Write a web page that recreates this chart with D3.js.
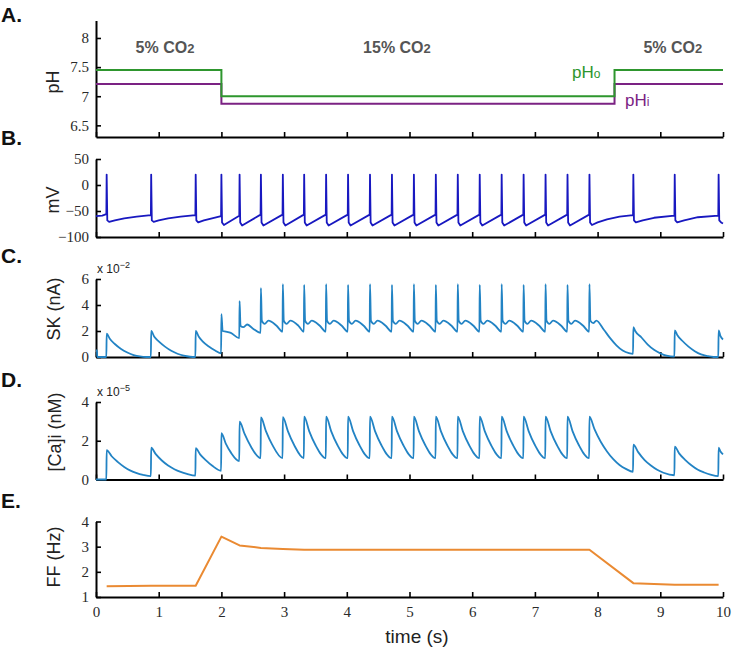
<!DOCTYPE html>
<html><head><meta charset="utf-8">
<script src="https://cdn.jsdelivr.net/npm/d3@7"></script>
<style>
html,body{margin:0;padding:0;background:#fff;}
svg{display:block;}
</style></head>
<body>
<svg id="chart" width="736" height="649"></svg>
<script>
// ---------------- DATA ----------------
const timeTicks = [0,1,2,3,4,5,6,7,8,9,10];

// A. pH (step changes)
const pHoTrace = [[0,7.45],[2,7.0],[8.27,7.45],[10,7.45]];
const pHiTrace = [[0,7.21],[2,6.87],[8.27,7.21],[10,7.21]];
const pHTicks = [6.5,7,7.5,8];
const co2Labels = [{t:1.1,text:"5% CO",sub:"2"},{t:4.8,text:"15% CO",sub:"2"},{t:9.2,text:"5% CO",sub:"2"}];

// B. membrane potential (mV)
const mvTicks = [-100,-50,0,50];
const mvTrace = [
[0,-60],[0.1,-59],[0.165,-56],[0.17,20],[0.18,-68],[0.21,-71],[0.3,-68],[0.45,-64],[0.65,-61],[0.875,-58],
[0.88,20],[0.89,-68],[0.92,-71],[1.0,-68],[1.15,-64],[1.35,-61],[1.585,-58],
[1.59,20],[1.6,-68],[1.63,-72],[1.72,-68],[1.85,-64],[1.995,-60],
[2.0,20],[2.01,-72],[2.04,-77],[2.285,-59],
[2.29,20],[2.3,-72],[2.33,-78],[2.625,-57],
[2.63,20],[2.64,-72],[2.67,-78],[2.975,-57],
[2.98,20],[2.99,-72],[3.02,-78],[3.315,-57],
[3.32,20],[3.33,-72],[3.36,-78],[3.665,-57],
[3.67,20],[3.68,-72],[3.71,-78],[4.015,-57],
[4.02,20],[4.03,-72],[4.06,-78],[4.365,-57],
[4.37,20],[4.38,-72],[4.41,-78],[4.715,-57],
[4.72,20],[4.73,-72],[4.76,-78],[5.065,-57],
[5.07,20],[5.08,-72],[5.11,-78],[5.415,-57],
[5.42,20],[5.43,-72],[5.46,-78],[5.765,-57],
[5.77,20],[5.78,-72],[5.81,-78],[6.115,-57],
[6.12,20],[6.13,-72],[6.16,-78],[6.465,-57],
[6.47,20],[6.48,-72],[6.51,-78],[6.815,-57],
[6.82,20],[6.83,-72],[6.86,-78],[7.165,-57],
[7.17,20],[7.18,-72],[7.21,-78],[7.515,-57],
[7.52,20],[7.53,-72],[7.56,-78],[7.865,-57],
[7.87,20],[7.88,-72],[7.91,-77],[8.0,-72],[8.15,-66],[8.35,-61],[8.565,-58],
[8.57,20],[8.58,-68],[8.61,-72],[8.72,-68],[8.9,-63],[9.225,-59],
[9.23,20],[9.24,-68],[9.27,-72],[9.38,-68],[9.6,-62],[9.925,-59],
[9.93,20],[9.94,-68],[9.97,-72],[10,-74]
];

// C. SK current (x 10^-2 nA)
const skTicks = [0,2,4,6];
const skTrace = [
[0,0.5],[0.015,0.5],[0.02,0],[0.165,0],[0.17,1.8],[0.22,1.4],[0.3,1.0],[0.4,0.62],[0.5,0.35],[0.6,0.15],[0.7,0.04],[0.8,0],[0.875,0],
[0.88,2.0],[0.93,1.55],[1.0,1.2],[1.1,0.8],[1.2,0.48],[1.3,0.25],[1.4,0.1],[1.5,0.02],[1.585,0],
[1.59,2.0],[1.64,1.55],[1.7,1.2],[1.8,0.8],[1.9,0.5],[1.995,0.28],
[2.0,3.3],[2.02,2.0],[2.07,1.95],[2.15,1.85],[2.285,1.45],
[2.29,4.3],[2.305,2.4],[2.35,2.3],[2.41,2.5],[2.5,2.2],[2.625,1.85],
[2.63,5.3],[2.645,2.8],[2.69,2.55],[2.75,2.8],[2.88,2.4],[2.975,1.95],
[2.98,5.6],[2.995,2.8],[3.04,2.55],[3.1,2.8],[3.23,2.4],[3.315,1.95],
[3.32,5.55],[3.335,2.8],[3.38,2.55],[3.44,2.8],[3.57,2.4],[3.665,1.95],
[3.67,5.6],[3.685,2.8],[3.73,2.55],[3.79,2.8],[3.92,2.4],[4.015,1.95],
[4.02,5.55],[4.035,2.8],[4.08,2.55],[4.14,2.8],[4.27,2.4],[4.365,1.95],
[4.37,5.6],[4.385,2.8],[4.43,2.55],[4.49,2.8],[4.62,2.4],[4.715,1.95],
[4.72,5.55],[4.735,2.8],[4.78,2.55],[4.84,2.8],[4.97,2.4],[5.065,1.95],
[5.07,5.6],[5.085,2.8],[5.13,2.55],[5.19,2.8],[5.32,2.4],[5.415,1.95],
[5.42,5.55],[5.435,2.8],[5.48,2.55],[5.54,2.8],[5.67,2.4],[5.765,1.95],
[5.77,5.6],[5.785,2.8],[5.83,2.55],[5.89,2.8],[6.02,2.4],[6.115,1.95],
[6.12,5.55],[6.135,2.8],[6.18,2.55],[6.24,2.8],[6.37,2.4],[6.465,1.95],
[6.47,5.6],[6.485,2.8],[6.53,2.55],[6.59,2.8],[6.72,2.4],[6.815,1.95],
[6.82,5.55],[6.835,2.8],[6.88,2.55],[6.94,2.8],[7.07,2.4],[7.165,1.95],
[7.17,5.6],[7.185,2.8],[7.23,2.55],[7.29,2.8],[7.42,2.4],[7.515,1.95],
[7.52,5.55],[7.535,2.8],[7.58,2.55],[7.64,2.8],[7.77,2.4],[7.865,1.95],
[7.87,5.6],[7.885,2.8],[7.93,2.6],[7.98,2.8],[8.1,2.1],[8.2,1.45],[8.3,0.9],[8.4,0.5],[8.5,0.3],[8.565,0.25],
[8.57,2.3],[8.6,2.0],[8.7,1.5],[8.8,0.95],[8.9,0.55],[9.0,0.28],[9.1,0.1],[9.225,0.03],
[9.23,2.05],[9.27,1.7],[9.35,1.25],[9.45,0.8],[9.55,0.45],[9.65,0.2],[9.75,0.07],[9.85,0],[9.925,0],
[9.93,2.05],[9.96,1.6],[10,1.35]
];

// D. intracellular calcium (x 10^-5 nM)
const caTicks = [0,2,4];
const caTrace = [
[0,0],[0.165,0],[0.17,1.52],[0.25,1.2],[0.35,0.9],[0.45,0.65],[0.55,0.46],[0.65,0.33],[0.75,0.24],[0.875,0.17],
[0.88,1.64],[0.95,1.32],[1.05,0.98],[1.15,0.72],[1.25,0.53],[1.35,0.39],[1.45,0.29],[1.585,0.2],
[1.59,1.62],[1.66,1.3],[1.75,1.0],[1.85,0.72],[1.995,0.45],
[2.0,2.39],[2.07,1.85],[2.15,1.4],[2.285,0.95],
[2.29,2.99],[2.37,2.35],[2.47,1.7],[2.625,1.1],
[2.63,3.2],[2.71,2.5],[2.81,1.8],[2.975,1.1],
[2.98,3.22],[3.06,2.5],[3.16,1.78],[3.315,1.1],
[3.32,3.25],[3.4,2.5],[3.5,1.78],[3.665,1.1],
[3.67,3.25],[3.75,2.5],[3.85,1.78],[4.015,1.1],
[4.02,3.25],[4.1,2.5],[4.2,1.78],[4.365,1.1],
[4.37,3.25],[4.45,2.5],[4.55,1.78],[4.715,1.1],
[4.72,3.25],[4.8,2.5],[4.9,1.78],[5.065,1.1],
[5.07,3.25],[5.15,2.5],[5.25,1.78],[5.415,1.1],
[5.42,3.25],[5.5,2.5],[5.6,1.78],[5.765,1.1],
[5.77,3.25],[5.85,2.5],[5.95,1.78],[6.115,1.1],
[6.12,3.25],[6.2,2.5],[6.3,1.78],[6.465,1.1],
[6.47,3.25],[6.55,2.5],[6.65,1.78],[6.815,1.1],
[6.82,3.25],[6.9,2.5],[7.0,1.78],[7.165,1.1],
[7.17,3.25],[7.25,2.5],[7.35,1.78],[7.515,1.1],
[7.52,3.25],[7.6,2.5],[7.7,1.78],[7.865,1.1],
[7.87,3.25],[7.95,2.6],[8.05,1.95],[8.15,1.45],[8.25,1.05],[8.35,0.75],[8.45,0.55],[8.565,0.4],
[8.57,1.8],[8.65,1.4],[8.75,1.0],[8.85,0.72],[8.95,0.5],[9.05,0.35],[9.225,0.22],
[9.23,1.7],[9.3,1.35],[9.4,1.0],[9.5,0.72],[9.6,0.5],[9.7,0.36],[9.8,0.25],[9.925,0.17],
[9.93,1.64],[9.96,1.45],[10,1.3]
];

// E. firing frequency (Hz)
const ffTicks = [1,2,3,4];
const ffTimes  = [0.17,0.88,1.59,2.0,2.29,2.63,2.98,3.32,7.87,8.57,9.23,9.93];
const ffValues = [1.43,1.45,1.45,3.4,3.05,2.95,2.91,2.88,2.88,1.55,1.49,1.49];

// ---------------- DRAW ----------------
const svg = d3.select("#chart");
const x = d3.scaleLinear().domain([0,10]).range([96,723]);

const colors = {pHo:"#2e962e", pHi:"#7b2283", mv:"#1818c0", sk:"#2283c4", ca:"#2283c4", ff:"#ea8a32"};
const serif = '"Liberation Serif","DejaVu Serif",serif';
const sans = '"Liberation Sans",Arial,sans-serif';

function panel(cfg){
  const y = d3.scaleLinear().domain(cfg.domain).range([cfg.bottom, cfg.top]);
  const g = svg.append("g");
  const xa = d3.axisBottom(x).tickValues(timeTicks).tickSizeInner(-5).tickSizeOuter(0).tickPadding(9)
    .tickFormat(cfg.xLabels ? d3.format("d") : "");
  const gx = g.append("g").attr("transform",`translate(0,${cfg.bottom})`).call(xa);
  const ya = d3.axisLeft(y).tickValues(cfg.ticks).tickSizeInner(-5).tickSizeOuter(0).tickPadding(7)
    .tickFormat(cfg.fmt || d3.format(""));
  const gy = g.append("g").attr("transform",`translate(${x(0)},0)`).call(ya);
  [gx,gy].forEach(a=>{
    a.attr("font-family",serif).attr("font-size",15);
    a.select(".domain").attr("stroke","#000").attr("stroke-width",2);
    a.selectAll(".tick line").attr("stroke","#000").attr("stroke-width",1.6);
    a.selectAll(".tick text").style("font-family",serif).attr("font-size",15).attr("fill","#2a2a2a");
  });
  g.append("text").attr("transform",`translate(${cfg.ylx},${cfg.lyc}) rotate(-90)`)
    .attr("text-anchor","middle").attr("dominant-baseline","central")
    .style("font-family",sans).attr("font-size",18).attr("fill","#222").text(cfg.ylabel);
  g.append("text").attr("x",1).attr("y",cfg.letterY).style("font-family",sans).attr("font-weight","bold")
    .attr("font-size",21).attr("fill","#111").text(cfg.letter);
  if(cfg.exp){
    const t = g.append("text").attr("x",97).attr("y",cfg.top-6).style("font-family",sans).attr("font-size",12).attr("fill","#222");
    t.append("tspan").text("x 10");
    t.append("tspan").attr("font-size",9).attr("dy",-5).text(cfg.exp);
  }
  return {g,y};
}

const lineOf = (y, curve) => d3.line().x(d=>x(d[0])).y(d=>y(d[1])).curve(curve||d3.curveLinear);

// A
const A = panel({domain:[6.3,8.3], top:20.5, bottom:137, ticks:pHTicks, ylabel:"pH", ylx:53, lyc:82, letter:"A.", letterY:22, fmt:d3.format("")});
A.g.append("path").datum(pHiTrace).attr("d",lineOf(A.y,d3.curveStepAfter)).attr("fill","none").attr("stroke",colors.pHi).attr("stroke-width",2);
A.g.append("path").datum(pHoTrace).attr("d",lineOf(A.y,d3.curveStepAfter)).attr("fill","none").attr("stroke",colors.pHo).attr("stroke-width",2);
co2Labels.forEach(l=>{
  const t = A.g.append("text").attr("x",x(l.t)).attr("y",53).attr("text-anchor","middle")
    .style("font-family",sans).attr("font-weight","bold").attr("font-size",16).attr("fill","#555");
  t.append("tspan").text(l.text);
  t.append("tspan").attr("font-size",13).text(l.sub);
});
const pho = A.g.append("text").attr("x",572).attr("y",78).style("font-family",sans).attr("font-size",17).attr("fill",colors.pHo);
pho.append("tspan").text("pH"); pho.append("tspan").attr("font-size",12).text("o");
const phi = A.g.append("text").attr("x",625).attr("y",106).style("font-family",sans).attr("font-size",17).attr("fill",colors.pHi);
phi.append("tspan").text("pH"); phi.append("tspan").attr("font-size",12).text("i");

// B
const B = panel({domain:[-100,50], top:159, bottom:237, ticks:mvTicks, ylabel:"mV", ylx:53, lyc:200, letter:"B.", letterY:145});
B.g.append("path").datum(mvTrace).attr("d",lineOf(B.y)).attr("fill","none").attr("stroke",colors.mv).attr("stroke-width",1.8).attr("stroke-linejoin","round");

// C
const C = panel({domain:[0,6], top:279, bottom:357, ticks:skTicks, ylabel:"SK (nA)", ylx:54, lyc:309, letter:"C.", letterY:263, exp:"−2"});
C.g.append("path").datum(skTrace).attr("d",lineOf(C.y,d3.curveMonotoneX)).attr("fill","none").attr("stroke",colors.sk).attr("stroke-width",1.8).attr("stroke-linejoin","round");

// D
const D = panel({domain:[0,4], top:402, bottom:479.5, ticks:caTicks, ylabel:"[Ca]i (nM)", ylx:55, lyc:432, letter:"D.", letterY:387, exp:"−5"});
D.g.append("path").datum(caTrace).attr("d",lineOf(D.y,d3.curveMonotoneX)).attr("fill","none").attr("stroke",colors.ca).attr("stroke-width",1.8).attr("stroke-linejoin","round");

// E
const E = panel({domain:[1,4], top:521.5, bottom:597, ticks:ffTicks, ylabel:"FF (Hz)", ylx:54, lyc:557, letter:"E.", letterY:508, xLabels:true});
const ffData = ffTimes.map((t,i)=>[t,ffValues[i]]);
E.g.append("path").datum(ffData).attr("d",lineOf(E.y)).attr("fill","none").attr("stroke",colors.ff).attr("stroke-width",2).attr("stroke-linejoin","round");

svg.append("text").attr("x",417).attr("y",643).attr("text-anchor","middle").style("font-family",sans)
  .attr("font-size",19).attr("fill","#222").text("time (s)");
</script>
</body></html>
